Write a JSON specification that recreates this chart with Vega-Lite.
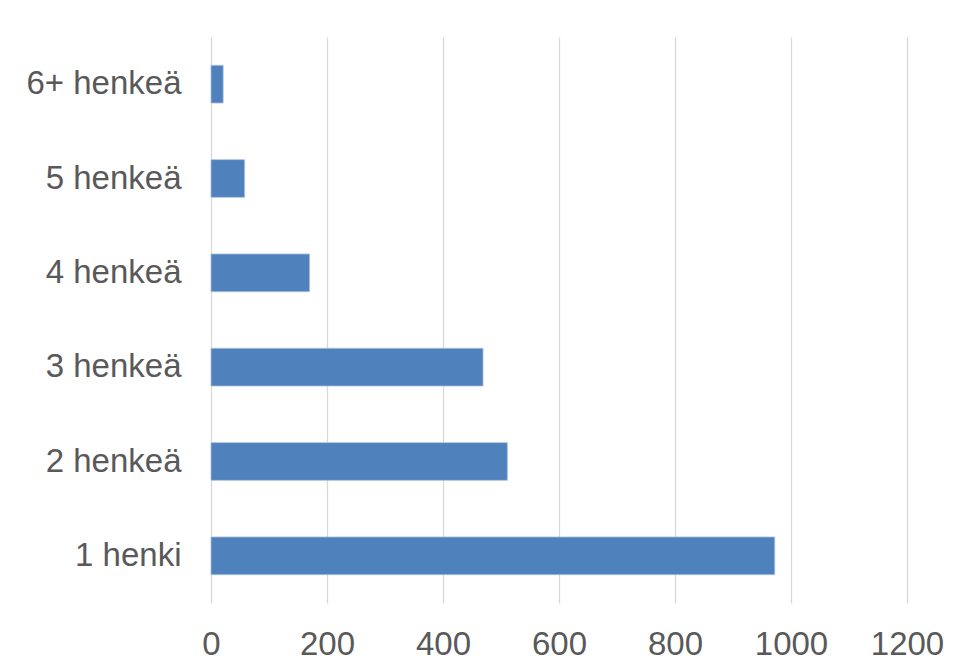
{
  "$schema": "https://vega.github.io/schema/vega-lite/v6.json",
  "autosize": "none",
  "width": 696,
  "height": 566,
  "padding": {"left": 211, "top": 37, "right": 49, "bottom": 67},
  "background": "white",
  "config": {"view": {"stroke": null}, "font": "Liberation Sans"},
  "data": {
    "values": [
      {"koko": "6+ henkeä", "maara": 21},
      {"koko": "5 henkeä", "maara": 58},
      {"koko": "4 henkeä", "maara": 170},
      {"koko": "3 henkeä", "maara": 469},
      {"koko": "2 henkeä", "maara": 511},
      {"koko": "1 henki", "maara": 972}
    ]
  },
  "mark": {"type": "bar", "color": "#4f81bd", "stroke": "#a9c2e0", "strokeWidth": 0.8},
  "encoding": {
    "y": {
      "field": "koko",
      "type": "nominal",
      "sort": ["6+ henkeä", "5 henkeä", "4 henkeä", "3 henkeä", "2 henkeä", "1 henki"],
      "scale": {"paddingInner": 0.6, "paddingOuter": 0.3},
      "axis": {
        "title": null,
        "ticks": false,
        "domain": false,
        "grid": false,
        "labelFont": "Liberation Sans",
        "labelFontSize": 33,
        "labelColor": "#595959",
        "labelPadding": 30
      }
    },
    "x": {
      "field": "maara",
      "type": "quantitative",
      "scale": {"domain": [0, 1200], "nice": false},
      "axis": {
        "title": null,
        "values": [0, 200, 400, 600, 800, 1000, 1200],
        "format": "d",
        "ticks": false,
        "domain": false,
        "grid": true,
        "gridColor": "#d9d9d9",
        "gridWidth": 1.3,
        "labelFont": "Liberation Sans",
        "labelFontSize": 33,
        "labelColor": "#595959",
        "labelPadding": 25,
        "labelFlush": false
      }
    }
  }
}
